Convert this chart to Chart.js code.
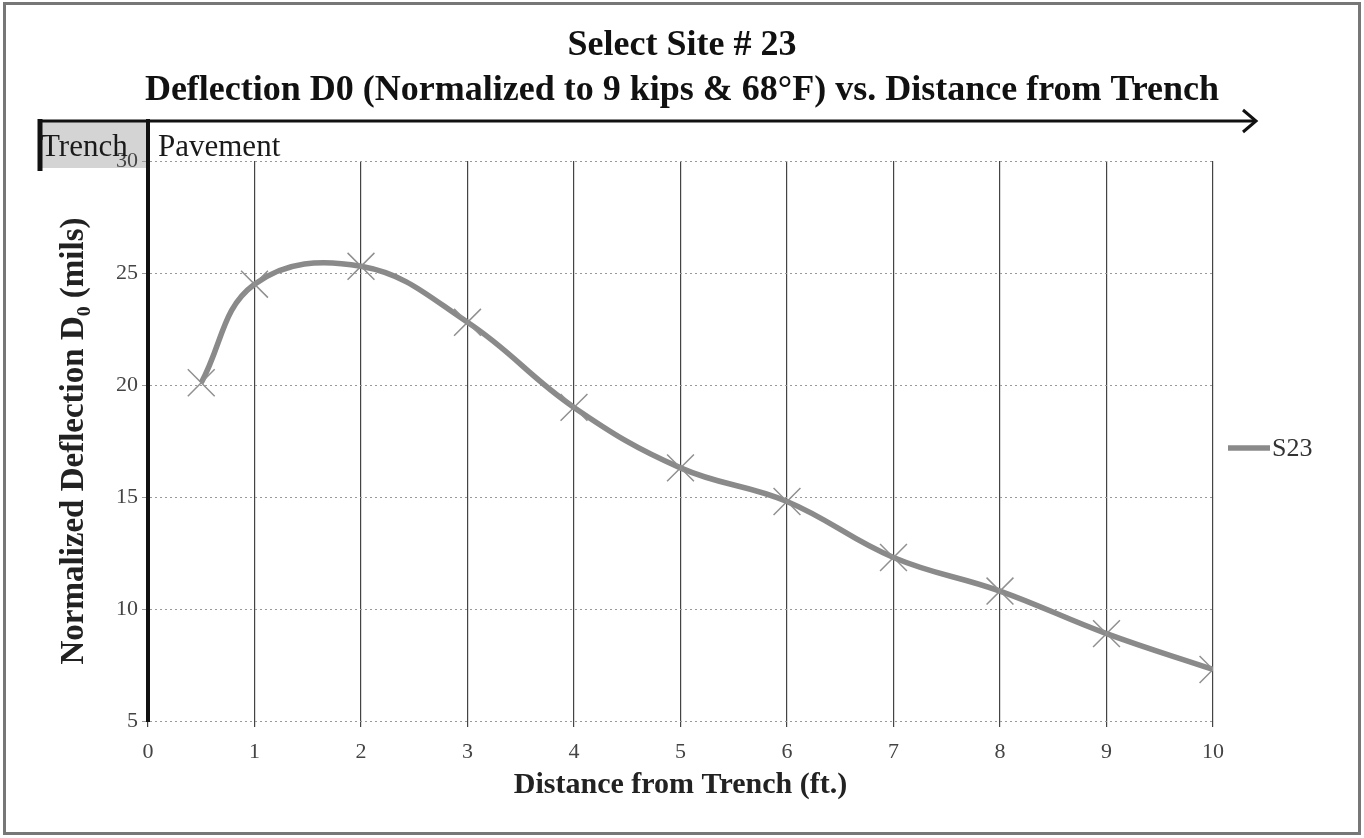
<!DOCTYPE html>
<html>
<head>
<meta charset="utf-8">
<script src="https://cdn.jsdelivr.net/npm/chart.js@4"></script>
<style>
  html, body { margin: 0; padding: 0; background: #fff; }
  #wrap { width: 1364px; height: 838px; }
</style>
</head>
<body>
<div id="wrap"><canvas id="c" width="1364" height="838"></canvas></div>
<script>
const titleLines = ['Select Site # 23', 'Deflection D0 (Normalized to 9 kips & 68°F) vs. Distance from Trench'];
const xTitle = 'Distance from Trench (ft.)';
const yTitle = 'Normalized Deflection D\u2080 (mils)';
const seriesName = 'S23';
const distances = [0.5, 1, 2, 3, 4, 5, 6, 7, 8, 9, 10];
const deflections = [20.1, 24.5, 25.3, 22.8, 19.0, 16.3, 14.8, 12.3, 10.8, 8.9, 7.3];
const xTicks = [0, 1, 2, 3, 4, 5, 6, 7, 8, 9, 10];
const yTicks = [5, 10, 15, 20, 25, 30];
const zoneLabels = ['Trench', 'Pavement'];

const FONT = "'Liberation Serif', 'Times New Roman', serif";
const LINE_COLOR = '#8a8a8a';

const decor = {
  id: 'decor',
  beforeDraw(chart) {
    const ctx = chart.ctx;
    const a = chart.chartArea;
    ctx.save();
    ctx.fillStyle = '#fff';
    ctx.fillRect(0, 0, chart.width, chart.height);
    ctx.fillStyle = '#d4d4d4';
    ctx.fillRect(38, 121, a.left - 38, 47);
    ctx.restore();
  },
  afterDraw(chart) {
    const ctx = chart.ctx;
    const a = chart.chartArea;
    ctx.save();
    // arrow along the top
    ctx.strokeStyle = '#111';
    ctx.lineWidth = 3;
    ctx.beginPath();
    ctx.moveTo(38, 121);
    ctx.lineTo(1255, 121);
    ctx.stroke();
    ctx.beginPath();
    ctx.moveTo(1243, 110);
    ctx.lineTo(1256, 121);
    ctx.lineTo(1243, 132);
    ctx.stroke();
    // trench left border
    ctx.lineWidth = 5;
    ctx.beginPath();
    ctx.moveTo(40, 119);
    ctx.lineTo(40, 171);
    ctx.stroke();
    // axis extension up to the arrow
    ctx.lineWidth = 4;
    ctx.beginPath();
    ctx.moveTo(a.left, 119);
    ctx.lineTo(a.left, a.top);
    ctx.stroke();
    // zone texts
    ctx.fillStyle = '#1a1a1a';
    ctx.font = '31px ' + FONT;
    ctx.textBaseline = 'alphabetic';
    ctx.textAlign = 'left';
    ctx.fillText(zoneLabels[0], 41, 156);
    ctx.fillText(zoneLabels[1], a.left + 10, 156);
    // legend
    const ds = chart.data.datasets[0];
    const ly = 448;
    ctx.strokeStyle = ds.borderColor;
    ctx.lineWidth = 5.5;
    ctx.beginPath();
    ctx.moveTo(1228, ly);
    ctx.lineTo(1270, ly);
    ctx.stroke();
    ctx.fillStyle = '#333';
    ctx.font = '26px ' + FONT;
    ctx.textBaseline = 'middle';
    ctx.fillText(ds.label, 1272, ly + 1);
    // outer frame
    ctx.strokeStyle = '#777';
    ctx.lineWidth = 3;
    ctx.strokeRect(4.5, 3.5, chart.width - 9, chart.height - 8);
    ctx.restore();
  }
};

new Chart(document.getElementById('c'), {
  type: 'line',
  data: {
    datasets: [{
      label: seriesName,
      data: distances.map((d, i) => ({ x: d, y: deflections[i] })),
      borderColor: LINE_COLOR,
      backgroundColor: LINE_COLOR,
      borderWidth: 5.5,
      tension: 0.4,
      pointStyle: 'crossRot',
      pointRadius: 19,
      pointBorderWidth: 1.5,
      pointBorderColor: '#909090',
      fill: false
    }]
  },
  options: {
    responsive: false,
    animation: false,
    layout: { padding: { left: 0, right: 0, top: 0, bottom: 25 } },
    plugins: {
      title: {
        display: true,
        text: titleLines,
        color: '#111',
        font: { family: FONT, size: 36, weight: 'bold', lineHeight: 1.25 },
        padding: { top: 23, bottom: 48 }
      },
      legend: { display: false },
      tooltip: { enabled: false }
    },
    scales: {
      x: {
        type: 'linear',
        min: 0, max: 10,
        afterBuildTicks: (s) => { s.ticks = xTicks.map(v => ({ value: v })); },
        afterFit: (s) => { s.height = 92; },
        grid: { color: '#444', lineWidth: 1.2, tickLength: 6, drawTicks: true },
        border: { display: false },
        ticks: { color: '#444', font: { family: FONT, size: 22 }, padding: 12 },
        title: {
          display: true, text: xTitle, color: '#222',
          font: { family: FONT, size: 30, weight: 'bold' },
          padding: { top: 0, bottom: 10 }
        }
      },
      y: {
        min: 5, max: 30,
        afterBuildTicks: (s) => { s.ticks = yTicks.map(v => ({ value: v })); },
        afterFit: (s) => { s.width = 148; },
        grid: { color: '#9a9a9a', lineWidth: 1, tickLength: 6 },
        border: { display: true, width: 4, color: '#111', dash: [2, 3] },
        ticks: { color: '#444', font: { family: FONT, size: 22 }, padding: 4 },
        title: {
          display: true, text: yTitle, color: '#222',
          font: { family: FONT, size: 33, weight: 'bold' },
          padding: { top: 55, bottom: 0 }
        }
      },
      legendSpace: {
        type: 'linear',
        position: 'right',
        display: true,
        min: 0, max: 1,
        afterFit: (s) => { s.width = 151; },
        grid: { display: false, drawTicks: false },
        border: { display: false },
        ticks: { display: false }
      }
    }
  },
  plugins: [decor]
});
</script>
</body>
</html>
